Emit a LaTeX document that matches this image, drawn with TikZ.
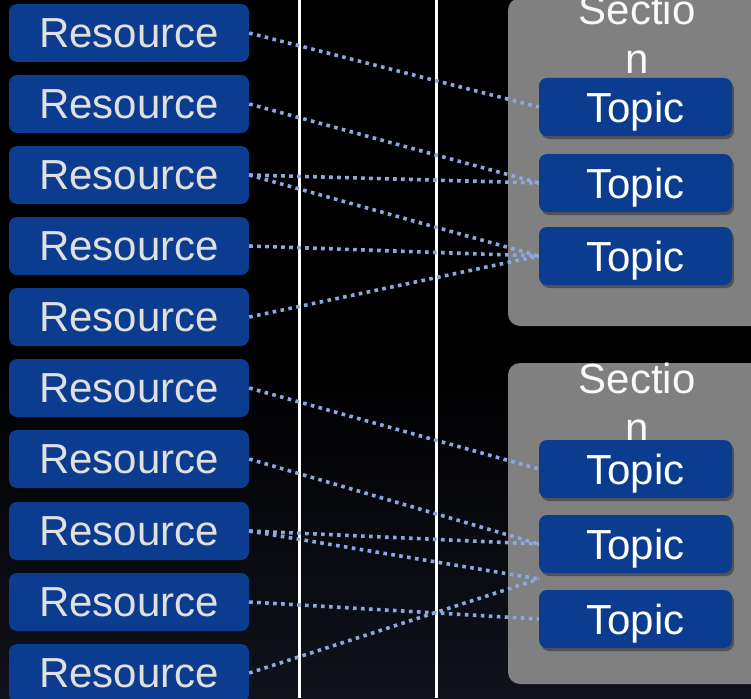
\documentclass[tikz,border=0pt]{standalone}
\usepackage{fontspec}
\setmainfont{Liberation Sans}
\usetikzlibrary{shadows}
\definecolor{resblue}{RGB}{12,60,143}
\definecolor{linkblue}{RGB}{140,168,224}
\definecolor{secgray}{RGB}{128,128,128}
\definecolor{restext}{RGB}{224,224,224}
\definecolor{bgbottom}{RGB}{16,18,28}
\begin{document}
\begin{tikzpicture}[x=1pt,y=-1pt,
  bigfont/.style={font=\fontsize{42}{49}\selectfont},
  resbox/.style={bigfont, fill=resblue, text=restext, rounded corners=8pt,
    minimum width=240pt, minimum height=58pt, inner sep=0pt,
    text height=30pt, text depth=1pt},
  topicbox/.style={bigfont, fill=resblue, text=white, rounded corners=8pt,
    minimum width=193pt, minimum height=58pt, inner sep=0pt,
    text height=30pt, text depth=0pt,
    drop shadow={shadow xshift=2pt, shadow yshift=-3pt, fill=black, opacity=0.35}},
  secbox/.style={fill=secgray, rounded corners=12pt},
  sectitle/.style={bigfont, text=white!95!gray, anchor=base, inner sep=0pt},
  link/.style={linkblue, line width=3.6pt, dash pattern=on 3.6pt off 4.4pt},
  rule/.style={white, line width=3pt}]
\useasboundingbox (0,0) rectangle (751,698);
\clip (0,0) rectangle (751,698);
% background
\shade[top color=black, bottom color=bgbottom, middle color=black] (0,0) rectangle (751,698);
% vertical rules
\draw[rule] (299,0) -- (299,698);
\draw[rule] (436,0) -- (436,698);
% sections
\path[secbox] (508,-2) rectangle (770,326);
\path[secbox] (508,363) rectangle (770,684);
\node[sectitle] (s1a) at (637,25) {Sectio};
\node[sectitle] (s1b) at (637,74) {n};
\node[sectitle] (s2a) at (637,393) {Sectio};
\node[sectitle] (s2b) at (637,442) {n};
% resources
\foreach \i/\y in {1/33,2/104,3/175,4/246,5/317,6/388,7/459,8/531,9/602,10/673}
  \node[resbox] (r\i) at (129,\y) {Resource};
% topics
\foreach \i/\y in {1/107,2/183,3/256,4/469,5/544,6/619}
  \node[topicbox] (t\i) at (635.5,\y) {Topic};
\coordinate (j) at (539,579);
% links
\draw[link] (r1.east) -- (t1.west);
\draw[link] (r2.east) -- (t2.west);
\draw[link] (r3.east) -- (t2.west);
\draw[link] (r3.east) -- (t3.west);
\draw[link] (r4.east) -- (t3.west);
\draw[link] (r5.east) -- (t3.west);
\draw[link] (r6.east) -- (t4.west);
\draw[link] (r7.east) -- (t5.west);
\draw[link] (r8.east) -- (t5.west);
\draw[link] (r8.east) -- (j);
\draw[link] (r10.east) -- (j);
\draw[link] (r9.east) -- (t6.west);
\end{tikzpicture}
\end{document}
